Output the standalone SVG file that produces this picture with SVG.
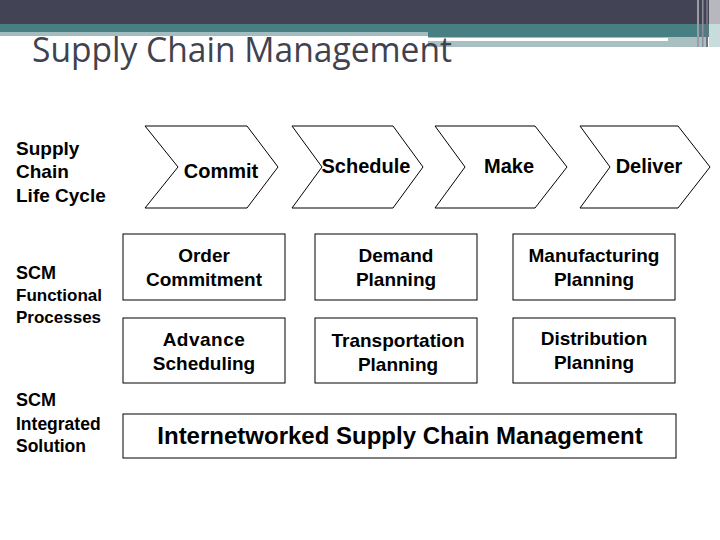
<svg xmlns="http://www.w3.org/2000/svg" width="720" height="540" viewBox="0 0 720 540">
<style>
.shape{fill:#ffffff;stroke:#000000;stroke-width:1}
.t{font-family:"Liberation Sans",Arial,sans-serif;font-weight:bold;fill:#000000}
.c{text-anchor:middle}
.ch{font-size:20px}
.bx{font-size:19px}
</style>
<rect x="0" y="0" width="720" height="540" fill="#ffffff"/>
<g id="header">
<rect x="0" y="0" width="720" height="24" fill="#424456"/>
<rect x="0" y="24" width="720" height="8" fill="#477f82"/>
<rect x="0" y="32" width="428" height="4" fill="#a3bcc0"/>
<rect x="428" y="32" width="292" height="5" fill="#477f82"/>
<rect x="428" y="37" width="280" height="10" fill="#a9bfc2"/>
<rect x="428" y="38" width="240" height="3" fill="#ffffff"/>
<rect x="580" y="47" width="128" height="1" fill="#ffffff"/>
<rect x="697" y="0" width="2" height="47" fill="#9c9ca8"/>
<rect x="702" y="0" width="1.5" height="47" fill="#8e8e9a"/>
<rect x="706" y="0" width="2" height="47" fill="#6e6e7c"/>
<rect x="709" y="0" width="11" height="24" fill="#b7b7c0"/>
<rect x="709" y="24" width="11" height="23" fill="#c9dcdc"/>
</g>
<text x="32" y="62" font-family="'Open Sans','DejaVu Sans',sans-serif" font-size="34" fill="#40424f" textLength="420" lengthAdjust="spacingAndGlyphs">Supply Chain Management</text>
<g id="row-labels" class="t">
<text x="16" y="155" font-size="19">Supply</text>
<text x="16" y="178" font-size="19">Chain</text>
<text x="16" y="202" font-size="19">Life Cycle</text>
<text x="16" y="279" font-size="18">SCM</text>
<text x="16" y="301" font-size="17">Functional</text>
<text x="16" y="323" font-size="17">Processes</text>
<text x="16" y="406" font-size="18">SCM</text>
<text x="16" y="430" font-size="17.5">Integrated</text>
<text x="16" y="452" font-size="17.5">Solution</text>
</g>
<g id="connectors"></g>
<g id="commit">
<polygon class="shape" points="145,126 247,126 278,167 247,208 145,208 178,167"/>
<text class="t c ch" x="221" y="178">Commit</text>
</g>
<g id="schedule">
<polygon class="shape" points="292,126 393,126 423,167 393,208 292,208 322,167"/>
<text class="t c ch" x="366" y="173">Schedule</text>
</g>
<g id="make">
<polygon class="shape" points="435,126 535,126 567,167 535,208 435,208 465,167"/>
<text class="t c ch" x="509" y="173">Make</text>
</g>
<g id="deliver">
<polygon class="shape" points="580,126 678,126 710,167 678,208 580,208 610,167"/>
<text class="t c ch" x="649" y="173">Deliver</text>
</g>
<g id="order-commitment">
<rect class="shape" x="123" y="234" width="162" height="66"/>
<text class="t c bx" x="204" y="262">Order</text>
<text class="t c bx" x="204" y="286">Commitment</text>
</g>
<g id="demand-planning">
<rect class="shape" x="315" y="234" width="162" height="66"/>
<text class="t c bx" x="396" y="262">Demand</text>
<text class="t c bx" x="396" y="286">Planning</text>
</g>
<g id="manufacturing-planning">
<rect class="shape" x="513" y="234" width="162" height="66"/>
<text class="t c bx" x="594" y="262">Manufacturing</text>
<text class="t c bx" x="594" y="286">Planning</text>
</g>
<g id="advance-scheduling">
<rect class="shape" x="123" y="318" width="162" height="65"/>
<text class="t c bx" x="204" y="346" letter-spacing="0.5">Advance</text>
<text class="t c bx" x="204" y="370">Scheduling</text>
</g>
<g id="transportation-planning">
<rect class="shape" x="315" y="318" width="162" height="65"/>
<text class="t c bx" x="398" y="347">Transportation</text>
<text class="t c bx" x="398" y="371">Planning</text>
</g>
<g id="distribution-planning">
<rect class="shape" x="513" y="318" width="162" height="65"/>
<text class="t c bx" x="594" y="345">Distribution</text>
<text class="t c bx" x="594" y="369">Planning</text>
</g>
<g id="internetworked-scm">
<rect class="shape" x="123" y="414" width="553" height="44"/>
<text class="t c" x="400" y="444" font-size="24">Internetworked Supply Chain Management</text>
</g>
</svg>
